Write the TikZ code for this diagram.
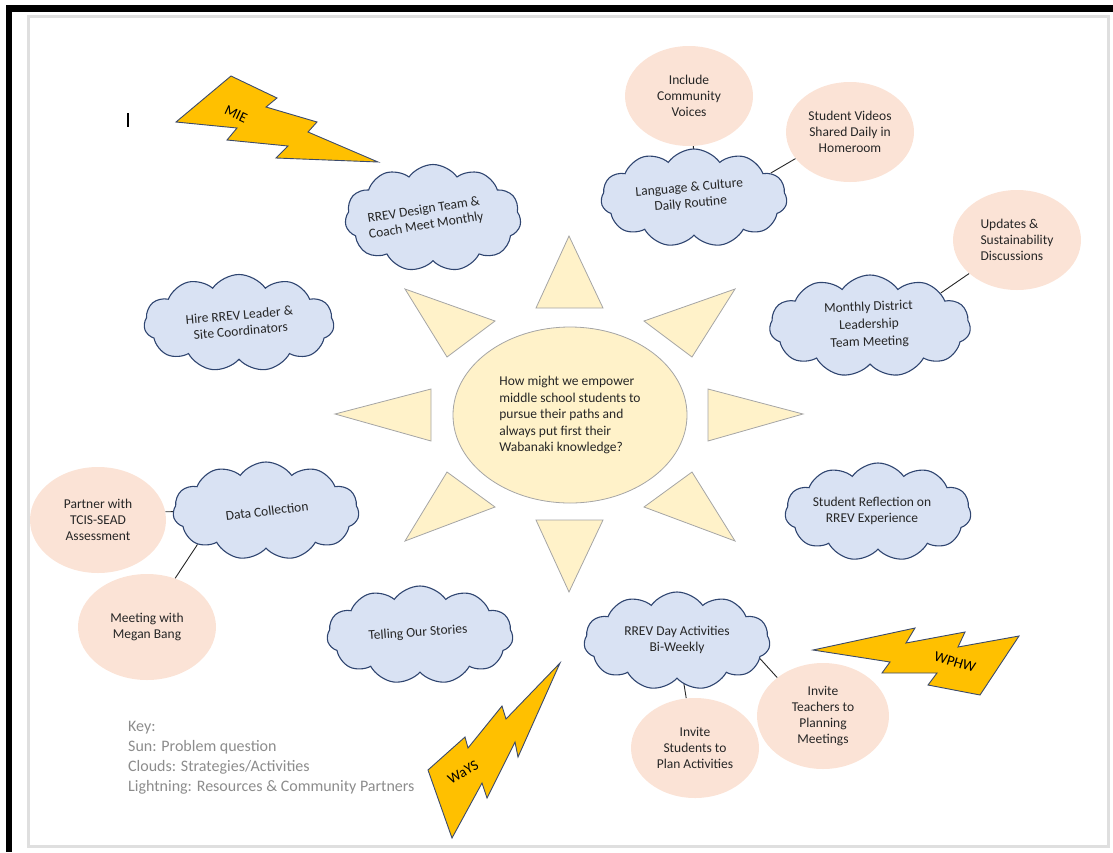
\documentclass[tikz,border=0pt]{standalone}
\usepackage{fontspec}
\setmainfont{Carlito}
\usetikzlibrary{shapes.symbols,shapes.geometric,backgrounds}
\definecolor{bleunuage}{HTML}{D9E2F3}
\definecolor{traitnuage}{HTML}{2F4570}
\definecolor{jaunesoleil}{HTML}{FFF2C9}
\definecolor{traitsoleil}{HTML}{A5A5A5}
\definecolor{rosebulle}{HTML}{FBE3D6}
\definecolor{oreclair}{HTML}{FFC000}
\definecolor{traiteclair}{HTML}{3B4A6B}
\definecolor{encre}{HTML}{262626}
\definecolor{grislegende}{HTML}{8C8C8C}
\begin{document}
\begin{tikzpicture}[x=1pt,y=-1pt]
	% Dimensions (MODIFIABLES)
	\def\LargeurNuage{186}
	\def\HauteurNuage{98}
	\def\LargeurBulle{128}
	\def\HauteurBulle{100}
	% Styles (MODIFIABLES)
	\tikzstyle{nuage}=[cloud,cloud puffs=11,cloud puff arc=110,cloud ignores aspect,draw=traitnuage,fill=bleunuage,line width=1.1pt,minimum width=\LargeurNuage pt,minimum height=\HauteurNuage pt]
	\tikzstyle{texte}=[text=encre,align=center,inner sep=0pt,font=\fontsize{13.5}{16}\selectfont]
	\tikzstyle{bulle}=[ellipse,fill=rosebulle,inner sep=0pt,minimum width=\LargeurBulle pt,minimum height=\HauteurBulle pt,texte]
	\tikzstyle{soleil}=[ellipse,draw=traitsoleil,fill=jaunesoleil,line width=0.8pt,minimum width=234pt,minimum height=176pt,texte,align=left,font=\fontsize{13.5}{16.5}\selectfont]
	\tikzstyle{rayon}=[draw=traitsoleil,fill=jaunesoleil,line width=0.8pt]
	\tikzstyle{eclair}=[draw=traiteclair,fill=oreclair,line width=0.9pt,line join=miter]
	\tikzstyle{eclairtexte}=[text=black,inner sep=0pt,font=\fontsize{14.5}{16}\selectfont]
	\tikzstyle{lien}=[-,draw=encre,line width=0.9pt]
	\tikzstyle{legende}=[text=grislegende,align=left,inner sep=0pt,font=\fontsize{16}{20}\selectfont]
	\tikzstyle{cadre}=[draw=gray!25,line width=3pt]
	% Cadre
	\useasboundingbox (0,0) rectangle (1113,852);
	\fill[black] (6,5) rectangle (1113,12);
	\fill[black] (6,5) rectangle (12,852);
	\draw[cadre] (28,16) rectangle (1108,846);
	\draw[line width=1.2pt] (128,113) -- (128,127);
	% Soleil
	\draw[rayon] (569,236) -- (603,308) -- (536,308) -- cycle;
	\draw[rayon] (569,592) -- (603,520) -- (536,520) -- cycle;
	\draw[rayon] (335,414) -- (431,389) -- (431,441) -- cycle;
	\draw[rayon] (803,414) -- (708,389) -- (708,441) -- cycle;
	\draw[rayon] (405,289) -- (495,321) -- (447,357) -- cycle;
	\draw[rayon] (735,289) -- (644,321) -- (692,357) -- cycle;
	\draw[rayon] (405,541) -- (495,507) -- (447,472) -- cycle;
	\draw[rayon] (735,541) -- (644,507) -- (692,472) -- cycle;
	\node[soleil] (S) at (570,415) {How might we empower\\middle school students to\\pursue their paths and\\always put first their\\Wabanaki knowledge?};
	% Nuages (MODIFIABLES : Styles)
	\node[nuage,minimum width=176pt,minimum height=107pt] (Na) at (433,218) {};
	\node[texte,rotate=9] (Ta) at (425,218) {RREV Design Team \&\\Coach Meet Monthly};
	\node[nuage,minimum width=190pt,minimum height=97pt] (Nb) at (239,323) {};
	\node[texte,rotate=5] (Tb) at (240,323) {Hire RREV Leader \&\\Site Coordinators};
	\node[nuage] (Nc) at (694,198) {};
	\node[texte,rotate=5] (Tc) at (690,196) {Language \& Culture\\Daily Routine};
	\node[nuage,minimum width=201pt,minimum height=102pt] (Nd) at (870,326) {};
	\node[texte,rotate=2,font=\fontsize{13.5}{17.5}\selectfont] (Td) at (869,325) {Monthly District\\Leadership\\Team Meeting};
	\node[nuage] (Ne) at (266,511) {};
	\node[texte,rotate=7] (Te) at (267,511) {Data Collection};
	\node[nuage] (Nf) at (420,635) {};
	\node[texte,rotate=4] (Tf) at (418,633) {Telling Our Stories};
	\node[nuage] (Ng) at (878,512) {};
	\node[texte] (Tg) at (872,511) {Student Reflection on\\RREV Experience};
	\node[nuage] (Nh) at (677,641) {};
	\node[texte] (Th) at (677,640) {RREV Day Activities\\Bi-Weekly};
	% Bulles
	\node[bulle] (Nca) at (689,96) {Include\\Community\\Voices};
	\node[bulle] (Ncb) at (850,132) {Student Videos\\Shared Daily in\\Homeroom};
	\node[bulle,align=left] (Nda) at (1017,240) {Updates \&\\Sustainability\\Discussions};
	\node[bulle,minimum width=136pt,minimum height=106pt] (Nea) at (98,520) {Partner with\\TCIS-SEAD\\Assessment};
	\node[bulle,minimum width=138pt,minimum height=106pt] (Neb) at (147,627) {Meeting with\\Megan Bang};
	\node[bulle] (Nha) at (695,748) {Invite\\Students to\\Plan Activities};
	\node[bulle,minimum width=132pt,minimum height=106pt] (Nhb) at (823,716) {Invite\\Teachers to\\Planning\\Meetings};
	% Eclairs
	\draw[eclair] (176,122) -- (231,76) -- (277,98) -- (266,107) -- (317,122) -- (308,132) -- (378,162) -- (276,158) -- (288,146) -- (227,140) -- (237,128) -- cycle;
	\node[eclairtexte,rotate=-25] (Mie) at (236,114) {MIE};
	\draw[eclair] (813,650) -- (915,628) -- (906,643) -- (965,632) -- (958,647) -- (1019,636) -- (980,695) -- (928,685) -- (937,673) -- (882,673) -- (890,662) -- cycle;
	\node[eclairtexte,rotate=-17] (Wphw) at (955,662) {WPHW};
	\draw[eclair] (560,663) -- (518,757) -- (515,742) -- (487,798) -- (482,783) -- (452,838) -- (428,770) -- (465,737) -- (468,748) -- (502,706) -- (506,719) -- cycle;
	\node[eclairtexte,rotate=30] (Ways) at (463,772) {WaYS};
	% Legende
	\node[legende,anchor=west] (Cle) at (128,758) {Key:\\Sun: Problem question\\Clouds: Strategies/Activities\\Lightning: Resources \& Community Partners};
	% Liens (derriere les nuages)
	\begin{scope}[on background layer]
		\draw[lien] (Nca.-85) -- (Nc.center);
		\draw[lien] (Ncb.206) -- (Nc.18);
		\draw[lien] (Nda.215) -- (Nd.25);
		\draw[lien] (Nea.7) -- (Ne.center);
		\draw[lien] (Neb.60) -- (Ne.206);
		\draw[lien] (Nha.100) -- (Nh.center);
		\draw[lien] (Nhb.140) -- (Nh.-12);
	\end{scope}
\end{tikzpicture}
\end{document}
